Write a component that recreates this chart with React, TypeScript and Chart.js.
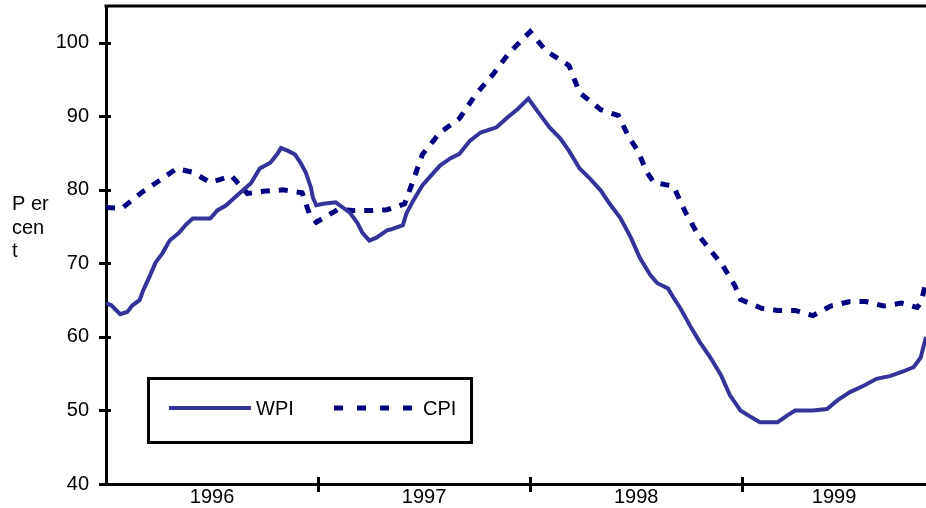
import React, { useEffect, useRef } from 'react';
import { Chart, registerables } from 'chart.js';

Chart.register(...registerables);

// Months counted from January 1996
const yearLabels = ['1996', '1997', '1998', '1999'];
const yTickValues = [40, 50, 60, 70, 80, 90, 100];
const seriesNames = ['WPI', 'CPI'];
const axisTitleLines = ['P er', 'cen', 't'];

const wpiMonths = [0, 0.3, 0.8, 1.2, 1.5, 1.9, 2.1, 2.5, 2.8, 3.2, 3.6, 4.1, 4.5, 4.9, 5.9, 6.3, 6.8, 7.3, 8.2, 8.7, 9.3, 9.7, 9.9, 10.3, 10.7, 11.0, 11.3, 11.6, 11.7, 11.9, 12.3, 13.0, 13.4, 13.8, 14.2, 14.5, 14.9, 15.3, 15.9, 16.1, 16.8, 17.0, 17.4, 17.9, 18.3, 18.9, 19.5, 20.0, 20.6, 21.2, 21.7, 22.1, 22.7, 23.3, 23.9, 24.2, 24.6, 25.1, 25.7, 26.2, 26.8, 27.4, 28.0, 28.5, 29.1, 29.7, 30.2, 30.8, 31.2, 31.8, 32.1, 32.5, 33.1, 33.6, 34.2, 34.8, 35.3, 35.9, 36.5, 37.0, 38.0, 38.6, 39.0, 40.0, 40.8, 41.4, 42.1, 42.9, 43.6, 44.4, 45.1, 45.7, 46.1, 46.4];
const wpiValues = [64.6, 64.3, 63.1, 63.4, 64.3, 65.0, 66.3, 68.4, 70.1, 71.4, 73.1, 74.1, 75.2, 76.1, 76.1, 77.2, 77.9, 79.0, 80.9, 82.9, 83.7, 84.9, 85.7, 85.3, 84.8, 83.7, 82.4, 80.3, 79.0, 77.9, 78.1, 78.3, 77.6, 76.9, 75.6, 74.2, 73.1, 73.5, 74.5, 74.6, 75.2, 76.8, 78.6, 80.6, 81.7, 83.3, 84.3, 84.9, 86.7, 87.8, 88.2, 88.5, 89.8, 91.0, 92.4, 91.4, 90.1, 88.5, 87.0, 85.3, 82.9, 81.5, 79.9, 78.1, 76.2, 73.5, 70.8, 68.4, 67.3, 66.6, 65.4, 63.9, 61.3, 59.3, 57.2, 54.8, 52.1, 50.0, 49.1, 48.4, 48.4, 49.4, 50.0, 50.0, 50.2, 51.4, 52.5, 53.4, 54.3, 54.7, 55.3, 55.9, 57.2, 60.0];

const cpiMonths = [0, 0.9, 2.0, 2.8, 4.0, 4.9, 5.9, 7.1, 8.0, 8.9, 10.0, 11.1, 11.5, 11.9, 13.1, 14.0, 15.1, 15.9, 16.9, 17.4, 17.9, 18.9, 20.0, 20.9, 21.9, 22.8, 24.0, 24.9, 26.2, 26.8, 28.0, 29.0, 29.6, 30.1, 30.6, 31.0, 32.1, 32.8, 33.5, 34.9, 35.6, 35.9, 37.1, 38.0, 39.0, 40.0, 41.0, 42.1, 43.0, 44.0, 45.0, 45.9, 46.1, 46.4];
const cpiValues = [77.6, 77.5, 79.6, 80.9, 82.9, 82.4, 81.0, 81.9, 79.5, 79.8, 80.0, 79.6, 76.8, 75.6, 77.3, 77.2, 77.2, 77.3, 78.1, 81.4, 84.8, 87.8, 89.7, 92.9, 95.7, 98.6, 101.5, 98.9, 96.9, 93.2, 90.9, 90.1, 87.1, 85.3, 82.4, 81.0, 80.5, 76.9, 73.9, 69.7, 66.9, 65.1, 63.9, 63.6, 63.6, 62.9, 64.2, 64.8, 64.8, 64.2, 64.6, 64.0, 64.6, 67.4];

const X_MAX = 46.4;
const FONT = '"Liberation Sans", Arial, sans-serif';
const WPI_COLOR = '#333399';
const CPI_COLOR = '#000080';

const toPoints = (xs: number[], ys: number[]) => xs.map((x, i) => ({ x, y: ys[i] }));

const decorPlugin = {
  id: 'decor',
  afterDraw(chart: any) {
    const { ctx, chartArea, scales } = chart;
    const xs = scales.x;
    const ys = scales.y;
    ctx.save();
    ctx.strokeStyle = '#000';
    ctx.lineWidth = 3;
    ctx.lineCap = 'butt';
    // top border
    ctx.beginPath();
    ctx.moveTo(chartArea.left - 1.5, chartArea.top);
    ctx.lineTo(chartArea.right, chartArea.top);
    ctx.stroke();
    // y tick marks crossing the axis
    yTickValues.forEach((v) => {
      const py = Math.round(ys.getPixelForValue(v)) + 0.5;
      ctx.beginPath();
      ctx.moveTo(chartArea.left - 7, py);
      ctx.lineTo(v === yTickValues[0] ? chartArea.left : chartArea.left + 5, py);
      ctx.stroke();
    });
    // x tick marks at year boundaries
    for (let i = 1; i < yearLabels.length; i++) {
      const px = Math.round(xs.getPixelForValue(i * 12)) + 0.5;
      ctx.beginPath();
      ctx.moveTo(px, chartArea.bottom - 7);
      ctx.lineTo(px, chartArea.bottom + 8);
      ctx.stroke();
    }
    // y axis title
    ctx.fillStyle = '#000';
    ctx.font = `20px ${FONT}`;
    ctx.textAlign = 'left';
    ctx.textBaseline = 'alphabetic';
    const baselines = [210, 234, 257];
    axisTitleLines.forEach((t, i) => ctx.fillText(t, 12, baselines[i]));
    // legend box
    const bx = 147, by = 377, bw = 326, bh = 67;
    ctx.fillStyle = '#fff';
    ctx.fillRect(bx, by, bw, bh);
    ctx.lineWidth = 3;
    ctx.strokeStyle = '#000';
    ctx.strokeRect(bx + 1.5, by + 1.5, bw - 3, bh - 3);
    const ly = 408;
    ctx.lineWidth = 4;
    ctx.strokeStyle = WPI_COLOR;
    ctx.beginPath();
    ctx.moveTo(169, ly);
    ctx.lineTo(251, ly);
    ctx.stroke();
    ctx.strokeStyle = CPI_COLOR;
    ctx.lineWidth = 5;
    ctx.setLineDash([9, 14]);
    ctx.beginPath();
    ctx.moveTo(334, ly);
    ctx.lineTo(416, ly);
    ctx.stroke();
    ctx.setLineDash([]);
    ctx.fillStyle = '#000';
    ctx.font = `20px ${FONT}`;
    ctx.textBaseline = 'middle';
    ctx.fillText(seriesNames[0], 256, ly + 1);
    ctx.fillText(seriesNames[1], 423, ly + 1);
    ctx.restore();
  },
};

export default function App() {
  const canvasRef = useRef<HTMLCanvasElement | null>(null);

  useEffect(() => {
    document.body.style.margin = '0';
    const canvas = canvasRef.current;
    if (!canvas) return;
    const chart = new Chart(canvas, {
      type: 'line',
      data: {
        datasets: [
          {
            label: seriesNames[0],
            data: toPoints(wpiMonths, wpiValues),
            borderColor: WPI_COLOR,
            borderWidth: 4,
            pointRadius: 0,
            tension: 0,
            fill: false,
          },
          {
            label: seriesNames[1],
            data: toPoints(cpiMonths, cpiValues),
            borderColor: CPI_COLOR,
            borderWidth: 5,
            borderDash: [9, 9],
            pointRadius: 0,
            tension: 0,
            fill: false,
          },
        ],
      },
      options: {
        responsive: false,
        animation: false,
        layout: { padding: { top: 6, right: 0, bottom: 0, left: 0 } },
        plugins: { legend: { display: false }, tooltip: { enabled: false } },
        scales: {
          x: {
            type: 'linear',
            min: 0,
            max: X_MAX,
            grid: { display: true, drawOnChartArea: false, drawTicks: false },
            border: { display: true, color: '#000', width: 3 },
            ticks: {
              color: '#000',
              font: { family: FONT, size: 20 },
              padding: 1,
              maxRotation: 0,
              autoSkip: false,
              callback: (_v: any, i: number) => yearLabels[i],
            },
            afterBuildTicks: (s: any) => {
              s.ticks = yearLabels.map((_, i) => {
                const a = i * 12;
                const b = Math.min((i + 1) * 12, X_MAX);
                return { value: (a + b) / 2 };
              });
            },
            afterFit: (s: any) => {
              s.height = 24;
              s.paddingLeft = 0;
              s.paddingRight = 0;
            },
          },
          y: {
            min: 40,
            max: 105,
            grid: { display: true, drawOnChartArea: false, drawTicks: false },
            border: { display: true, color: '#000', width: 3 },
            ticks: {
              color: '#000',
              font: { family: FONT, size: 20 },
              padding: 17,
            },
            afterBuildTicks: (s: any) => {
              s.ticks = yTickValues.map((v) => ({ value: v }));
            },
            afterFit: (s: any) => {
              s.width = 106;
              s.paddingTop = 0;
              s.paddingBottom = 0;
            },
          },
        },
      },
      plugins: [decorPlugin],
    });
    return () => chart.destroy();
  }, []);

  return (
    <div style={{ width: 926, height: 508, background: '#fff' }}>
      <canvas ref={canvasRef} width={926} height={508} style={{ display: 'block' }} />
    </div>
  );
}
